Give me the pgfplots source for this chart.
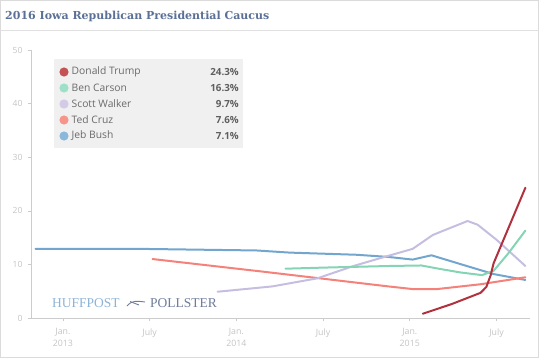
\documentclass[border=0pt]{standalone}
\usepackage{fontspec}
\setmainfont{Open Sans}
\newfontfamily\titlefont{DejaVu Serif}
\newfontfamily\logofont{Liberation Serif}
\usepackage{pgfplots}
\pgfplotsset{compat=1.18}
\usetikzlibrary{calc}
\definecolor{trumpc}{HTML}{B0323F}
\definecolor{carsonc}{HTML}{86D4B6}
\definecolor{walkerc}{HTML}{C6BEE0}
\definecolor{cruzc}{HTML}{F4817A}
\definecolor{bushc}{HTML}{72A6CE}
\definecolor{trumpl}{HTML}{C45252}
\definecolor{carsonl}{HTML}{9EE0C8}
\definecolor{walkerl}{HTML}{D2CAE6}
\definecolor{cruzl}{HTML}{F6958A}
\definecolor{bushl}{HTML}{8AB8DA}
\definecolor{titlec}{HTML}{5B7096}
\definecolor{tickc}{HTML}{C4C4C4}
\definecolor{axisc}{HTML}{CCCCCC}
\definecolor{legbg}{HTML}{F0F0F0}
\definecolor{legtext}{HTML}{6A6A6A}
\definecolor{huffc}{HTML}{8DB3D6}
\definecolor{pollc}{HTML}{6E7C99}
\begin{document}
\begin{tikzpicture}
\begin{axis}[name=ax, scale only axis,
  width=499pt, height=268pt,
  xmin=-2.21, xmax=32.32, ymin=0, ymax=50,
  axis lines*=left,
  axis line style={draw=axisc, line width=0.8pt},
  tick align=outside, major tick length=3pt,
  tick style={draw=axisc, line width=0.6pt},
  xtick pos=left, ytick pos=left,
  ytick={0,10,20,30,40,50},
  xtick={0,6,12,18,24,30},
  xticklabels={{Jan.\\2013},July,{Jan.\\2014},July,{Jan.\\2015},July},
  /pgf/number format/assume math mode=true,
  yticklabel style={text=tickc, font=\fontsize{8.5}{9}\selectfont, xshift=-2pt},
  xticklabel style={text=tickc, font=\fontsize{8.8}{12}\selectfont, align=center, yshift=-4pt},
  clip=false,
  every axis plot/.append style={line width=2pt, line join=round, line cap=round},
]
\addplot[bushc, mark=none] coordinates {(-1.9,12.9) (5.3,12.9) (13.4,12.6) (15.7,12.2) (20.3,11.8) (22.5,11.4) (24.2,10.9) (25.5,11.7) (27.7,9.9) (29.8,8.2) (32.0,7.1)};
\addplot[cruzc, mark=none] coordinates {(6.2,11.0) (14.0,8.6) (22.5,5.9) (24.2,5.4) (25.9,5.4) (28.9,6.3) (32.0,7.6)};
\addplot[walkerc, mark=none] coordinates {(10.7,4.9) (14.5,5.9) (17.6,7.4) (20.1,9.7) (22.0,11.2) (24.2,12.9) (25.6,15.5) (28.0,18.1) (28.7,17.4) (30.0,14.6) (32.0,9.7)};
\addplot[carsonc, mark=none] coordinates {(15.4,9.2) (18.0,9.4) (22.5,9.7) (24.8,9.8) (26.0,9.2) (27.5,8.5) (29.0,8.0) (29.8,8.8) (30.8,12.0) (32.0,16.3)};
\addplot[trumpc, mark=none] coordinates {(24.9,0.8) (26.9,2.6) (28.9,4.7) (29.3,5.8) (29.6,8.0) (29.8,10.2) (32.0,24.3)};
\end{axis}
\coordinate (O) at ($(ax.south west)+(-31pt,-42pt)$);
\begin{scope}[shift={(O)}, x=1pt, y=1pt]
\draw[black!14, line width=1pt] (0.5,2.5) rectangle (538.5,359.5);
\draw[black!12, line width=0.8pt] (0.5,329.5) -- (538.5,329.5);
\node[anchor=base west, inner sep=0pt, text=titlec, font=\titlefont\bfseries\fontsize{11}{13}\selectfont] at (5,340.5) {2016 Iowa Republican Presidential Caucus};
% logo
\node[anchor=base west, inner sep=0pt, text=huffc, font=\logofont\fontsize{13.5}{14}\selectfont] at (52,53) {HUFFPOST};
\node[anchor=base west, inner sep=0pt, text=pollc, font=\logofont\fontsize{13.5}{14}\selectfont] at (150,53) {POLLSTER};
\draw[pollc, line width=0.9pt] (127,54) .. controls (132,60) and (137,59) .. (145,58);
\draw[pollc, line width=0.9pt] (130,58.5) -- (139,55);
% legend
\fill[legbg] (54,212) rectangle (243,301);
\foreach \yy/\cc/\nm/\vv in {288/trumpl/Donald Trump/24.3,272/carsonl/Ben Carson/16.3,256/walkerl/Scott Walker/9.7,240/cruzl/Ted Cruz/7.6,224/bushl/Jeb Bush/7.1}{
  \fill[\cc] (64,\yy) circle (4.6);
  \node[anchor=west, inner sep=0pt, text=legtext, font=\fontsize{10.3}{12}\selectfont] at (71.5,\yy) {\nm};
  \node[anchor=east, inner sep=0pt, text=legtext!90!black, font=\bfseries\fontsize{9.8}{12}\selectfont] at (239,\yy) {\vv\%};
}
\end{scope}
\pgfresetboundingbox
\path[use as bounding box] (O) rectangle ++(540pt,360pt);
\end{tikzpicture}
\end{document}
